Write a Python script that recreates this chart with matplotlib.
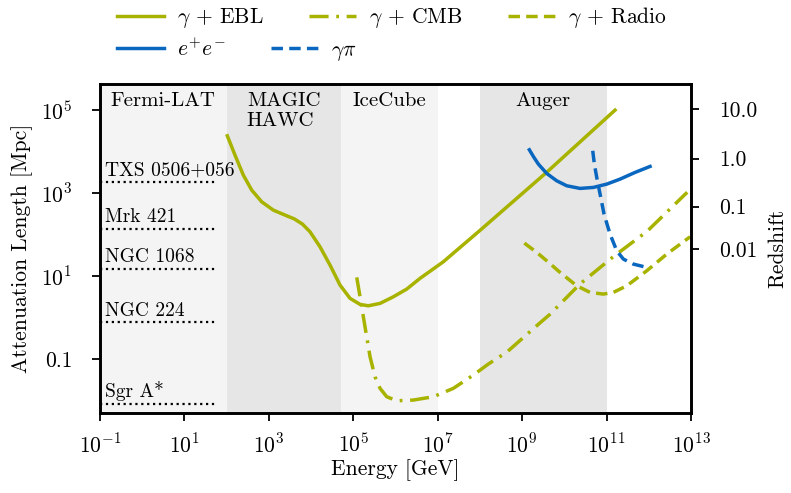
import numpy as np
import matplotlib
matplotlib.use("Agg")
import matplotlib.pyplot as plt

plt.rcParams['font.family'] = ['cmr10', 'DejaVu Serif']
plt.rcParams['mathtext.fontset'] = 'cm'
plt.rcParams['axes.formatter.use_mathtext'] = True
plt.rcParams['font.size'] = 15

OLIVE = '#a8b300'
BLUE = '#0a67c0'

# ---- data (log10 of energy [GeV] and log10 of attenuation length [Mpc]) ----
ebl_logE = [2.016, 2.198, 2.395, 2.594, 2.831, 3.106, 3.423, 3.600, 3.800, 3.975, 4.212, 4.449, 4.686,
            4.923, 5.160, 5.356, 5.634, 5.949, 6.266, 6.581, 7.133, 7.77, 8.00, 9.59, 11.20]
ebl_logL = [4.381, 3.916, 3.434, 3.072, 2.790, 2.590, 2.453, 2.380, 2.250, 2.067, 1.706, 1.265, 0.783,
            0.463, 0.318, 0.284, 0.342, 0.501, 0.687, 0.945, 1.345, 1.90, 2.10, 3.51, 5.00]

cmb_logE = [5.082, 5.160, 5.278, 5.397, 5.515, 5.634, 5.792, 6.029, 6.423, 6.896, 7.370, 7.844,
            8.199, 8.64, 9.42, 9.66, 10.37, 11.15, 11.96, 12.91]
cmb_logL = [0.969, 0.501, -0.222, -0.945, -1.427, -1.706, -1.908, -2.005, -1.988, -1.908, -1.706,
            -1.386, -1.120, -0.83, -0.13, 0.08, 0.81, 1.46, 2.08, 3.02]

radio_logE = [9.052, 9.346, 9.582, 9.898, 10.293, 10.608, 10.924, 11.161, 11.478, 11.952, 12.426, 12.978]
radio_logL = [1.795, 1.571, 1.369, 1.089, 0.766, 0.607, 0.566, 0.607, 0.766, 1.128, 1.530, 1.947]

ee_logE = [9.171, 9.280, 9.385, 9.582, 9.819, 10.056, 10.372, 10.687, 11.004, 11.319, 11.675, 12.030]
ee_logL = [4.044, 3.860, 3.699, 3.474, 3.297, 3.177, 3.113, 3.137, 3.217, 3.337, 3.499, 3.643]

gpi_logE = [10.672, 10.711, 10.767, 10.846, 10.940, 11.082, 11.241, 11.398, 11.635, 11.952]
gpi_logL = [4.020, 3.699, 3.378, 2.976, 2.494, 2.012, 1.610, 1.410, 1.289, 1.210]

# sources: name, distance [Mpc]
source_names = ['TXS 0506+056', 'Mrk 421', 'NGC 1068', 'NGC 224', 'Sgr A*']
source_dist = [1850.0, 140.0, 15.0, 0.78, 0.0083]

# experiment energy ranges [GeV]
exp_names = ['Fermi-LAT', 'MAGIC\nHAWC', 'IceCube', '', 'Auger']
exp_lo = [1e-1, 1e2, 5e4, 1e7, 1e8]
exp_hi = [1e2, 5e4, 1e7, 1e8, 1e11]
exp_col = ['#f4f4f4', '#e6e6e6', '#f4f4f4', '#ffffff', '#e6e6e6']

xticks = [1e-1, 1e1, 1e3, 1e5, 1e7, 1e9, 1e11, 1e13]
xticklabels = ['$10^{-1}$', '$10^{1}$', '$10^{3}$', '$10^{5}$', '$10^{7}$', '$10^{9}$', '$10^{11}$', '$10^{13}$']
yticks = [1e5, 1e3, 1e1, 1e-1]
yticklabels = ['$10^{5}$', '$10^{3}$', '$10^{1}$', '0.1']
z_ticks = [10.0, 1.0, 0.1, 0.01]
z_labels = ['10.0', '1.0', '0.1', '0.01']


def lum_dist(z, H0=67.7, Om=0.31):
    zz = np.linspace(0, z, 4000)
    Ez = np.sqrt(Om * (1 + zz) ** 3 + (1 - Om))
    dc = 299792.458 / H0 * np.trapezoid(1.0 / Ez, zz)
    return (1 + z) * dc


fig = plt.figure(figsize=(7.91, 4.93), dpi=100)
ax = fig.add_axes([100 / 791, 1 - 413 / 493, 591 / 791, 329 / 493])
ax.set_xscale('log')
ax.set_yscale('log')
ax.set_xlim(1e-1, 1e13)
ax.set_ylim(10 ** -2.30, 10 ** 5.63)

for lo, hi, c, name in zip(exp_lo, exp_hi, exp_col, exp_names):
    ax.axvspan(lo, hi, color=c, lw=0, zorder=0)
    if name:
        ax.text(np.sqrt(lo * hi), 10 ** 5.43, name, ha='center', va='top',
                multialignment='left', fontsize=15, linespacing=1.15, zorder=3)

for name, d in zip(source_names, source_dist):
    ax.plot([1e-1, 10 ** 1.73], [d, d], ls=':', color='black', lw=1.6, zorder=2)
    ax.text(10 ** -0.88, d * 1.15, name, ha='left', va='bottom', fontsize=14, zorder=3)

lw = 2.5
l1, = ax.plot(10 ** np.array(ebl_logE), 10 ** np.array(ebl_logL), color=OLIVE, lw=lw, label=r'$\gamma$ + EBL')
l2, = ax.plot(10 ** np.array(cmb_logE), 10 ** np.array(cmb_logL), color=OLIVE, lw=lw,
              dashes=(5.5, 2.2, 0.8, 2.2), label=r'$\gamma$ + CMB')
l3, = ax.plot(10 ** np.array(radio_logE), 10 ** np.array(radio_logL), color=OLIVE, lw=lw,
              dashes=(3.3, 1.8), label=r'$\gamma$ + Radio')
l4, = ax.plot(10 ** np.array(ee_logE), 10 ** np.array(ee_logL), color=BLUE, lw=lw, label=r'$e^{+}e^{-}$')
l5, = ax.plot(10 ** np.array(gpi_logE), 10 ** np.array(gpi_logL), color=BLUE, lw=lw,
              dashes=(3.3, 1.8), label=r'$\gamma\pi$')

ax.set_xticks(xticks)
ax.set_xticklabels(xticklabels)
ax.set_yticks(yticks)
ax.set_yticklabels(yticklabels)
ax.minorticks_off()
ax.tick_params(axis='both', direction='out', length=6, width=1.3, labelsize=15.5)
ax.tick_params(axis='x', pad=8)
ax.tick_params(axis='y', pad=14)
ax.set_xlabel('Energy [GeV]', fontsize=15.5, labelpad=2)
ax.set_ylabel('Attenuation Length [Mpc]', fontsize=15.5, labelpad=6)
for s in ax.spines.values():
    s.set_linewidth(1.9)

ax2 = ax.twinx()
ax2.set_yscale('log')
ax2.set_ylim(ax.get_ylim())
ax2.set_yticks([lum_dist(z) for z in z_ticks])
ax2.set_yticklabels(z_labels)
ax2.minorticks_off()
ax2.tick_params(axis='y', direction='out', length=6, width=1.3, labelsize=15.5, pad=14)
ax2.set_ylabel('Redshift', fontsize=15.5, labelpad=8)
for s in ax2.spines.values():
    s.set_linewidth(1.9)

leg_kw = dict(frameon=False, fontsize=15.5, handlelength=2.2, columnspacing=2.1,
              handletextpad=0.6, borderpad=0.0, borderaxespad=0.0, loc='center left')
leg1 = fig.legend(handles=[l1, l2, l3], ncol=3, bbox_to_anchor=(117 / 791, 1 - 18 / 493), **leg_kw)
leg2 = fig.legend(handles=[l4, l5], ncol=2, bbox_to_anchor=(117 / 791, 1 - 50 / 493), **leg_kw)

fig.savefig('out.png', dpi=100)
